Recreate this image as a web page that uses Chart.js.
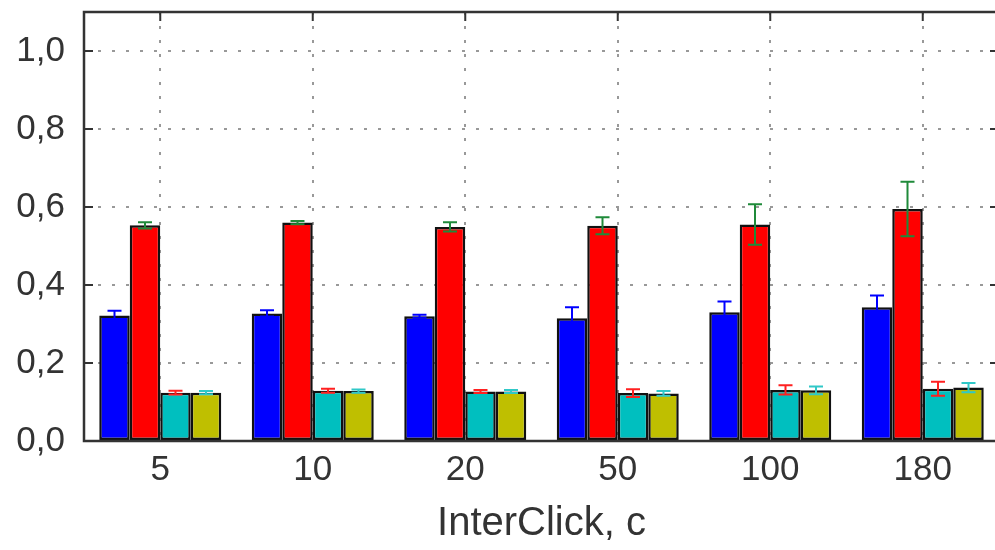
<!DOCTYPE html>
<html>
<head>
<meta charset="utf-8">
<script src="https://cdn.jsdelivr.net/npm/chart.js@4/dist/chart.umd.min.js"></script>
<style>
  html, body { margin: 0; padding: 0; background: #fff; overflow: hidden; }
  #wrap { width: 1000px; height: 550px; }
</style>
</head>
<body>
<div id="wrap"><canvas id="chart"></canvas></div>
<script>
// categories (InterClick, c)
const categories = ['5', '10', '20', '50', '100', '180'];

// bar heights
const blueVals   = [0.322, 0.327, 0.320, 0.315, 0.330, 0.343];
const redVals    = [0.553, 0.560, 0.549, 0.552, 0.555, 0.595];
const cyanVals   = [0.124, 0.129, 0.127, 0.123, 0.131, 0.134];
const yellowVals = [0.124, 0.128, 0.127, 0.122, 0.130, 0.137];

// error bar half-lengths
const blueErr   = [0.012, 0.008, 0.004, 0.028, 0.028, 0.030];
const redErr    = [0.008, 0.004, 0.012, 0.022, 0.052, 0.070];
const cyanErr   = [0.005, 0.005, 0.004, 0.010, 0.012, 0.018];
const yellowErr = [0.004, 0.004, 0.004, 0.006, 0.010, 0.012];

const yTicks = [0, 0.2, 0.4, 0.6, 0.8, 1.0];

const series = [
  { data: blueVals,   err: blueErr,   fill: '#0000ff', errColor: '#0000ff' },
  { data: redVals,    err: redErr,    fill: '#ff0000', errColor: '#1f8a3a' },
  { data: cyanVals,   err: cyanErr,   fill: '#00bfbf', errColor: '#ff2020' },
  { data: yellowVals, err: yellowErr, fill: '#bfbf00', errColor: '#30c8c8' }
];

// error bars on top of the bars
const errorBars = {
  id: 'errorBars',
  afterDatasetsDraw(chart) {
    const ctx = chart.ctx;
    const y = chart.scales.y;
    series.forEach((s, di) => {
      const meta = chart.getDatasetMeta(di);
      meta.data.forEach((bar, i) => {
        const v = s.data[i], e = s.err[i];
        const top = y.getPixelForValue(v + e);
        const bot = y.getPixelForValue(v - e);
        const cap = 7;
        ctx.save();
        ctx.strokeStyle = s.errColor;
        ctx.lineWidth = 2;
        ctx.beginPath();
        ctx.moveTo(bar.x, top); ctx.lineTo(bar.x, bot);
        ctx.moveTo(bar.x - cap, top); ctx.lineTo(bar.x + cap, top);
        ctx.moveTo(bar.x - cap, bot); ctx.lineTo(bar.x + cap, bot);
        ctx.stroke();
        ctx.restore();
      });
    });
  }
};

// matplotlib-like frame with inward ticks
const frame = {
  id: 'frame',
  afterDraw(chart) {
    const { ctx, chartArea: a, scales } = chart;
    ctx.save();
    ctx.strokeStyle = '#333';
    ctx.lineWidth = 2.5;
    ctx.strokeRect(a.left, a.top, a.right - a.left, a.bottom - a.top);
    ctx.lineWidth = 2;
    ctx.beginPath();
    yTicks.forEach(t => {
      const py = scales.y.getPixelForValue(t);
      ctx.moveTo(a.left, py); ctx.lineTo(a.left + 9, py);
      ctx.moveTo(a.right, py); ctx.lineTo(a.right - 9, py);
    });
    categories.forEach((c, i) => {
      const px = scales.x.getPixelForValue(i);
      ctx.moveTo(px, a.top); ctx.lineTo(px, a.top + 9);
    });
    ctx.stroke();
    ctx.restore();
  }
};

const tickFont = { family: '"Liberation Sans", Arial, sans-serif', size: 35 };

new Chart(document.getElementById('chart'), {
  type: 'bar',
  data: {
    labels: categories,
    datasets: series.map(s => ({
      data: s.data,
      backgroundColor: s.fill,
      borderColor: '#111',
      borderWidth: 2.5,
      borderSkipped: false,
      categoryPercentage: 0.8,
      barPercentage: 1.0
    }))
  },
  options: {
    responsive: true,
    maintainAspectRatio: false,
    animation: false,
    layout: { padding: { top: 12, right: 1, left: 0, bottom: 0 } },
    plugins: { legend: { display: false }, tooltip: { enabled: false } },
    scales: {
      x: {
        grid: { offset: false, color: '#999', lineWidth: 2, drawTicks: false },
        border: { display: false, dash: [3, 11] },
        ticks: { color: '#333', font: tickFont, padding: 8, maxRotation: 0 },
        title: {
          display: true, text: 'InterClick, c', color: '#333',
          font: { family: '"Liberation Sans", Arial, sans-serif', size: 40 },
          padding: { top: 0, bottom: 2 }
        },
        afterFit(scale) {
          scale.height = 109;
          scale.paddingLeft = 0; scale.paddingRight = 0;
        }
      },
      y: {
        min: 0, max: 1.1,
        grid: { color: '#999', lineWidth: 2, drawTicks: false },
        border: { display: false, dash: [3, 11] },
        ticks: {
          stepSize: 0.2, color: '#333', font: tickFont, padding: 19,
          callback: v => v.toFixed(1).replace('.', ',')
        },
        afterBuildTicks(scale) {
          scale.ticks = yTicks.map(v => ({ value: v }));
        },
        afterFit(scale) {
          scale.width = 84;
          scale.paddingTop = 0; scale.paddingBottom = 0;
        }
      }
    }
  },
  plugins: [errorBars, frame]
});
</script>
</body>
</html>
